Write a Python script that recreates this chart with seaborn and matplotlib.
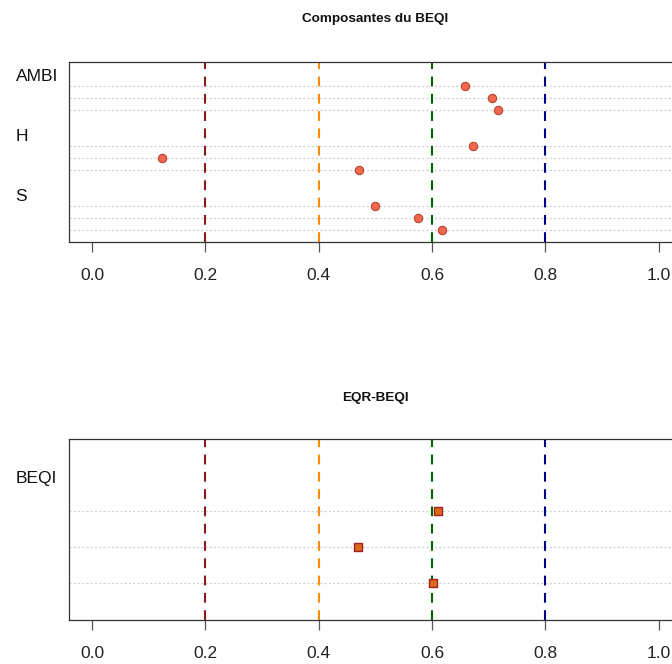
import numpy as np
import pandas as pd
import matplotlib
matplotlib.use("Agg")
import matplotlib.pyplot as plt
import matplotlib.transforms as mtransforms
import seaborn as sns

# ---------------- data ----------------
groups_top = ["S", "H", "AMBI"]          # bottom -> top (R dotchart order)
S_vals = [0.617, 0.576, 0.499]
H_vals = [0.471, 0.123, 0.672]
AMBI_vals = [0.717, 0.706, 0.658]
groups_bot = ["BEQI"]
BEQI_vals = [0.601, 0.469, 0.610]
thresholds = [0.2, 0.4, 0.6, 0.8]
threshold_colors = ["#8B1A1A", "#FF8C00", "#006400", "#00008B"]
xticks = [0.0, 0.2, 0.4, 0.6, 0.8, 1.0]
xtick_labels = ["0.0", "0.2", "0.4", "0.6", "0.8", "1.0"]
title_top = "Composantes du BEQI"
title_bot = "EQR-BEQI"


def dotchart_frame(group_names, group_values):
    """Compute R-dotchart style row positions for grouped values."""
    rows, labels = [], []
    offset = 0
    for g, vals in zip(group_names, group_values):
        n = len(vals)
        for i, v in enumerate(vals):
            rows.append({"group": g, "value": v, "ypos": offset + i + 1})
        labels.append((g, offset + n + 1))
        offset += n + 2
    return pd.DataFrame(rows), labels, offset - 1


plt.rcParams["font.family"] = ["Liberation Sans", "DejaVu Sans"]

fig = plt.figure(figsize=(6.72, 6.64), dpi=100)
W, H = 672, 664
left_px, right_px = 69.4, 681.4


def make_ax(top_px, bottom_px):
    return fig.add_axes([left_px / W, 1 - bottom_px / H,
                         (right_px - left_px) / W, (bottom_px - top_px) / H])


ax1 = make_ax(61.7, 241.5)
ax2 = make_ax(439.3, 619.5)

panels = [
    (ax1, groups_top, [S_vals, H_vals, AMBI_vals], "o", 36, "#F4694D", "#B5432F", 0.8),
    (ax2, groups_bot, [BEQI_vals], "s", 30, "#D9691C", "#A01E1E", 1.0),
]

for ax, gnames, gvals, marker, size, fc, ec, elw in panels:
    df, labels, top = dotchart_frame(gnames, gvals)
    ymax = top + 1
    # dotted guide lines
    for yv in df["ypos"]:
        ax.axhline(yv, color="#CFCFCF", lw=0.9, linestyle=(0, (1.6, 1.8)), zorder=1)
    # threshold dashed lines
    for xv, c in zip(thresholds, threshold_colors):
        ax.axvline(xv, color=c, lw=1.5, linestyle=(0, (4.7, 3.6)), zorder=2)
    sns.scatterplot(data=df, x="value", y="ypos", ax=ax, marker=marker, s=size,
                    color=fc, edgecolor=ec, linewidth=elw, zorder=3, legend=False)
    ax.set_xlim(-0.04, 1.04)
    ax.set_ylim(0, ymax)
    ax.set_xlabel("")
    ax.set_ylabel("")
    ax.set_yticks([])
    ax.set_xticks(xticks)
    ax.set_xticklabels(xtick_labels)
    ax.tick_params(axis="x", length=7.5, width=0.9, color="#555555", pad=11.5,
                   labelsize=12.5, labelcolor="#222222")
    for sp in ax.spines.values():
        sp.set_color("#333333")
        sp.set_linewidth(0.9)
    trans = mtransforms.blended_transform_factory(fig.transFigure, ax.transData)
    trans = trans + mtransforms.ScaledTranslation(0, -2.2 / 72, fig.dpi_scale_trans)
    for g, yl in labels:
        ax.text(15.5 / W, yl, g, transform=trans, ha="left", va="center",
                fontsize=12.5, color="#111111")

cx = (left_px + right_px) / 2 / W
fig.text(cx, 1 - 19 / H, title_top, ha="center", va="center",
         fontsize=9.7, fontweight="bold", color="#111111")
fig.text(cx, 1 - 397.5 / H, title_bot, ha="center", va="center",
         fontsize=9.7, fontweight="bold", color="#111111")

fig.savefig("out.png", dpi=100)
